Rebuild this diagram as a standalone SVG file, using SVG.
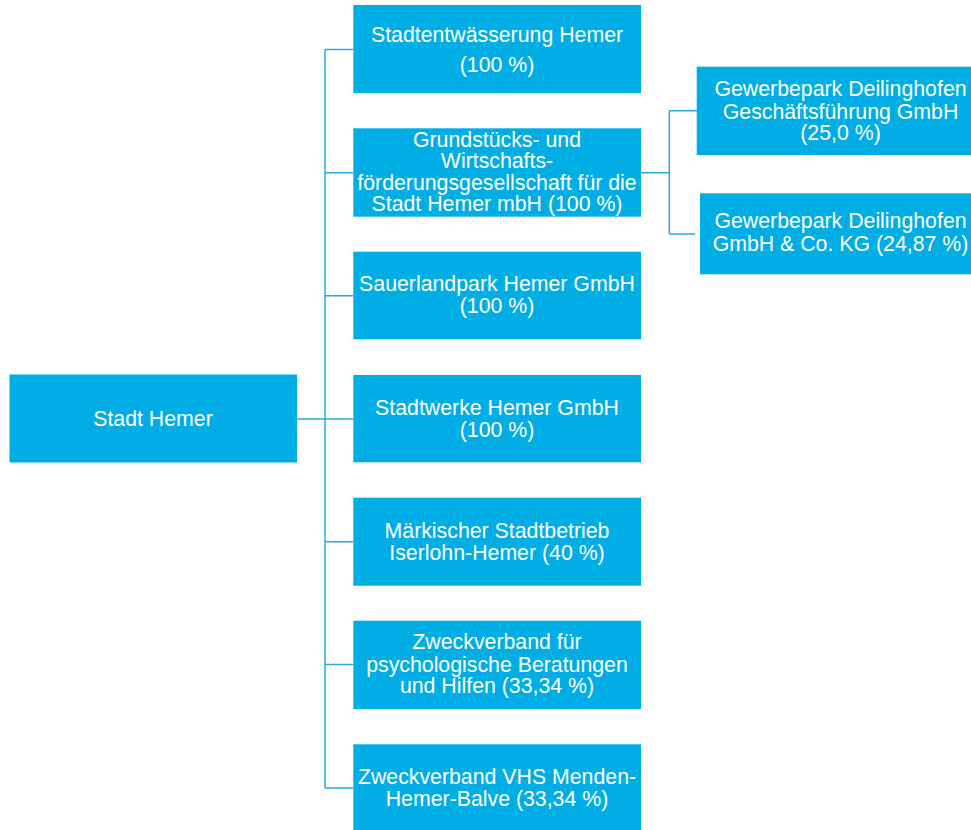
<svg xmlns="http://www.w3.org/2000/svg" width="971" height="830" viewBox="0 0 971 830">
<style>
.box{fill:#00AEE5;}
.t{font-family:"Liberation Sans",Arial,sans-serif;font-size:21.3px;fill:#FFFFFF;text-anchor:middle;}
.c{fill:none;stroke:#29ABE2;stroke-width:1.5;}
</style>
<rect width="971" height="830" fill="#FFFFFF"/>
<g id="connectors">
<path class="c" d="M297 419H353"/>
<path class="c" d="M325 49.5V788"/>
<path class="c" d="M325 49.5H353M325 172.7H353M325 295.7H353M325 541.7H353M325 664.5H353M325 788H353"/>
<path class="c" d="M641 172.7H669.3M669.3 110.7V234M669.3 110.7H697M669.3 234H695"/>
</g>
<g id="stadt-hemer">
<rect class="box" x="9.5" y="374.5" width="287.5" height="88"/>
<text class="t" x="153" y="426">Stadt Hemer</text>
</g>
<g id="stadtentwaesserung">
<rect class="box" x="353.3" y="5" width="287.7" height="88"/>
<text class="t" x="497" y="41.7">Stadtentwässerung Hemer</text>
<text class="t" x="497" y="71.7">(100 %)</text>
</g>
<g id="grundstuecks">
<rect class="box" x="353.3" y="128.3" width="287.7" height="88.4"/>
<text class="t" x="497" y="146.5">Grundstücks- und</text>
<text class="t" x="497" y="168">Wirtschafts-</text>
<text class="t" x="497" y="189.5">förderungsgesellschaft für die</text>
<text class="t" x="497" y="211.3">Stadt Hemer mbH (100 %)</text>
</g>
<g id="sauerlandpark">
<rect class="box" x="353.3" y="251.7" width="287.7" height="87.6"/>
<text class="t" x="497" y="290.7">Sauerlandpark Hemer GmbH</text>
<text class="t" x="497" y="313.3">(100 %)</text>
</g>
<g id="stadtwerke">
<rect class="box" x="353.3" y="375" width="287.7" height="87.3"/>
<text class="t" x="497" y="415">Stadtwerke Hemer GmbH</text>
<text class="t" x="497" y="437.3">(100 %)</text>
</g>
<g id="maerkischer">
<rect class="box" x="353.3" y="497.7" width="287.7" height="88"/>
<text class="t" x="497" y="537.7">Märkischer Stadtbetrieb</text>
<text class="t" x="497" y="560">Iserlohn-Hemer (40 %)</text>
</g>
<g id="zweckverband-beratung">
<rect class="box" x="353.3" y="620.7" width="287.7" height="88.3"/>
<text class="t" x="497" y="649.3">Zweckverband für</text>
<text class="t" x="497" y="671.5">psychologische Beratungen</text>
<text class="t" x="497" y="693.3">und Hilfen (33,34 %)</text>
</g>
<g id="zweckverband-vhs">
<rect class="box" x="353.3" y="744.3" width="287.7" height="88"/>
<text class="t" x="497" y="784.3">Zweckverband VHS Menden-</text>
<text class="t" x="497" y="805.7">Hemer-Balve (33,34 %)</text>
</g>
<g id="gewerbepark-gf">
<rect class="box" x="696.7" y="66.7" width="290" height="88.3"/>
<text class="t" x="840.5" y="96">Gewerbepark Deilinghofen</text>
<text class="t" x="840.5" y="118.5">Geschäftsführung GmbH</text>
<text class="t" x="840.5" y="140">(25,0 %)</text>
</g>
<g id="gewerbepark-kg">
<rect class="box" x="700" y="193.3" width="290" height="81"/>
<text class="t" x="840.5" y="228.3">Gewerbepark Deilinghofen</text>
<text class="t" x="840.5" y="251.2">GmbH &amp; Co. KG (24,87 %)</text>
</g>
</svg>
